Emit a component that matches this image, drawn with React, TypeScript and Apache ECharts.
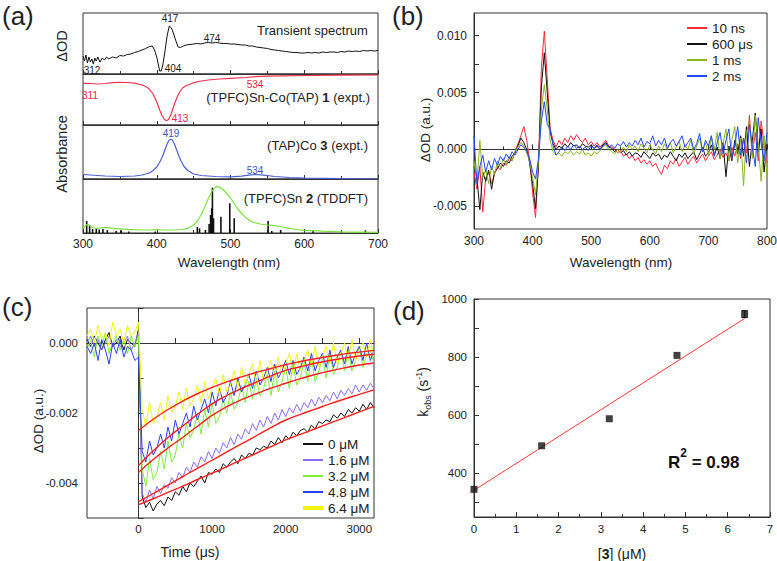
import React, { useEffect, useRef } from "react";
import * as echarts from "echarts";

const FONT = "'Liberation Sans', Arial, Helvetica, sans-serif";

// ---------- Panel (a): stacked spectra (arbitrary units, [wavelength nm, value]) ----------
const transientSpectrum: number[][] = [
  [300, 18], [302, 13], [304, 19], [306, 11], [308, 17], [310, 12], [312, 15], [314, 10], [316, 16], [318, 13],
  [320, 17], [323, 12], [326, 16], [329, 14], [332, 17], [335, 15], [340, 17], [345, 16], [350, 18.5], [355, 18],
  [360, 19.5], [365, 20], [370, 21.5], [375, 22.5], [380, 24], [385, 25.5], [390, 27.5], [394, 28], [397, 24],
  [400, 17], [402, 10], [404, 3], [406, 3], [408, 8], [411, 22], [414, 38], [417, 48], [420, 46], [423, 40],
  [426, 33], [429, 27], [432, 26.5], [436, 28], [440, 29], [445, 29.5], [450, 30], [455, 30.5], [460, 30],
  [465, 31], [470, 31.5], [475, 31], [480, 31.5], [485, 31], [490, 30.5], [495, 30.5], [500, 30], [505, 30],
  [510, 29.5], [515, 29], [520, 29], [525, 28], [530, 28], [535, 27], [540, 26.5], [545, 26], [550, 25.5],
  [555, 24.5], [560, 24], [565, 23.5], [570, 23], [575, 22.5], [580, 22], [585, 21.5], [590, 21.5], [595, 21],
  [600, 21], [605, 21.5], [610, 21], [615, 21.5], [620, 21], [625, 22], [630, 21.5], [635, 22], [640, 22],
  [645, 21.5], [650, 22.5], [655, 22], [660, 23], [665, 22.5], [670, 23], [675, 22.5], [680, 23.5], [685, 23],
  [690, 23.5], [695, 23], [700, 23.5],
];
const absComplex1: number[][] = [
  [300, 41.7], [310, 41.5], [320, 41], [330, 41.5], [340, 42.3], [350, 42.7], [360, 42.5], [370, 41.8],
  [380, 40], [385, 38.5], [390, 36], [395, 31], [400, 23], [404, 15], [407, 9.5], [410, 6], [413, 4.3],
  [416, 5.5], [419, 10], [422, 16.5], [425, 23], [428, 28.5], [431, 33], [435, 37], [440, 39.5], [450, 42.3],
  [460, 44], [470, 45], [485, 46], [500, 46.7], [520, 47.5], [534, 48.3], [550, 48.8], [570, 49.2],
  [600, 49.5], [650, 49.8], [700, 50],
];
const absCo3: number[][] = [
  [300, 4.5], [310, 4], [330, 3], [350, 2.5], [370, 3], [380, 4], [390, 6], [395, 8.5], [400, 12], [405, 18],
  [408, 23], [411, 29], [414, 35], [417, 39], [419, 39.7], [421, 39], [424, 35], [427, 29], [430, 23],
  [433, 18], [437, 12.5], [442, 8.5], [450, 5], [460, 3.5], [480, 2.5], [500, 2.2], [515, 2.8], [525, 3.8],
  [534, 4.5], [545, 3.8], [560, 2.5], [580, 1.5], [600, 0.8], [650, 0.3], [700, 0],
];
const tddftSn2: number[][] = [
  [300, 4.5], [303, 7], [306, 8.7], [309, 7.5], [313, 5.5], [318, 4.5], [325, 5.2], [330, 5.7], [336, 5.2],
  [345, 4.3], [360, 3.7], [380, 3], [395, 3.2], [400, 3.5], [410, 3], [425, 3], [435, 3.5], [442, 4.7],
  [450, 8], [455, 12], [460, 18], [465, 26], [470, 34.5], [475, 42], [480, 46.3], [485, 46], [490, 43.5],
  [495, 39.5], [500, 35], [505, 29.5], [510, 24], [515, 19.5], [520, 15.8], [525, 13], [530, 11], [540, 9],
  [550, 8], [560, 7.3], [570, 6], [580, 4.7], [590, 3.5], [600, 2.7], [625, 1.8], [650, 1.2], [700, 0.6],
];
const tddftSticks: number[][] = [
  [305, 12], [309, 8], [313, 4], [318, 5], [322, 3.5], [327, 4], [333, 3], [345, 2], [352, 2.5], [362, 1.5],
  [398, 1.5], [455, 6], [458, 4.5], [466, 3], [471, 9], [473, 18], [474.5, 24.7], [475.5, 45.3], [477, 14.7],
  [487, 16.3], [499, 29.7], [505, 14.7], [551, 12], [556, 2], [568, 3], [612, 2.7], [683, 2.7],
];

// ---------- Panel (b): transient spectra, 300–800 nm every 5 nm, ΔOD in units of 1e-4 ----------
const wlB = Array.from({ length: 101 }, (_, i) => 300 + 5 * i);
const b10ns = [
  -20, -35, -15, -55, -25, -20, -30, -22, -15, -18,
  -12, -14, -8, -10, -2, 5, 12, 20, 8, -10,
  -38, -60, -12, 72, 104, 62, 18, 8, 2, 8,
  4, 10, 6, 12, 8, 13, 9, 6, 10, 4,
  7, 3, 6, 2, 5, 8, 3, 2, 0, -3,
  -1, -6, -4, -8, -5, -10, -7, -12, -9, -13,
  -10, -15, -12, -18, -22, -14, -17, -10, -13, -8,
  -15, -11, -7, -13, -9, -6, -12, -8, -4, -10,
  -6, -2, -9, -5, 0, -7, -3, -10, 2, -6,
  5, -8, 10, -3, 30, -5, 15, -10, 25, 5,
  -12,
];
const b600us = [
  -15, -25, -53, -20, -28, -18, -35, -20, -17, -12,
  -15, -10, -12, -6, -3, 3, 10, 6, 0, -12,
  -30, -52, -15, 55, 85, 50, 15, 5, 0, 3,
  1, 5, 2, 6, 3, 4, 1, 5, 3, 2,
  4, 1, 3, 0, 4, 6, 2, 1, -2, 0,
  -3, -1, -5, -2, -6, -3, -4, -7, -2, -5,
  -8, -3, -6, -4, -9, -5, -7, -2, -6, -10,
  -4, -7, -3, -8, -5, -2, -9, -4, 2, -6,
  -3, 4, -5, 2, -8, 6, -24, 3, -10, 8,
  -4, 12, -6, 20, -15, 8, 32, -2, 18, -20,
  5,
];
const b1ms = [
  -10, -30, 8, -25, -18, -30, -15, -22, -10, -16,
  -8, -13, -6, -10, -2, 2, 6, 3, -3, -10,
  -25, -40, -10, 35, 57, 35, 8, -2, -5, -3,
  -6, -2, -4, -1, -5, -2, -4, 0, -5, -3,
  -6, -2, -4, -1, 2, 4, 0, -2, -4, 0,
  -3, 2, -2, 4, 0, 3, -2, 5, 1, -3,
  4, 0, -4, 3, -2, 5, 0, 6, -3, 2,
  7, -2, 4, 0, 8, -4, 3, 10, -2, 6,
  -5, 12, 0, 15, -8, 5, 18, -10, 8, 20,
  -12, 10, -32, 15, 25, -8, 30, 5, -28, 12,
  -25,
];
const b2ms = [
  12, -30, -15, -5, -20, -10, -18, -8, -14, -6,
  -10, -4, -8, -2, -5, 0, 4, 2, -2, -8,
  -20, -26, -8, 25, 42, 22, 18, 3, -5, -2,
  2, -1, 3, 0, 4, 1, 3, 0, 2, -1,
  3, 1, 4, 0, 3, 5, 2, 4, 1, 5,
  3, 7, 2, 6, 3, 8, 4, 10, 2, 7,
  5, 12, 3, 8, 4, 10, 1, 6, 9, 3,
  7, 12, 2, 6, 10, 0, 5, 14, -2, 8,
  3, 12, -6, 6, 15, -4, 8, 18, -8, 4,
  20, -5, 10, -12, 22, 2, -15, 28, 5, -10,
  15,
];

// ---------- Panel (c): kinetic traces, -700–3200 µs every 50 µs, ΔOD in units of 1e-4 ----------
const tC = Array.from({ length: 79 }, (_, i) => -700 + 50 * i);
const c0uM = [
  1, -1, 2, 0, -2, 1, 3, -1, 0, 2, -2, 1, 0, -1,
  4,
  -44, -47, -45.5, -48, -46, -45, -46.5, -44, -45, -42.5,
  -43.5, -41, -42.5, -40, -41, -39.5, -38, -40, -37, -37.5,
  -36, -37, -34.5, -35.5, -34, -33, -34.5, -32, -33, -31.5,
  -32, -30, -30.5, -29.5, -30, -28, -29, -27, -28.5, -26.5,
  -27.5, -25.5, -26.5, -25, -24.5, -25.5, -23.5, -24.5, -22.5, -23,
  -22, -22.5, -20.5, -21.5, -20, -21, -19, -20, -18.5, -19.5,
  -17.5, -19, -17, -18.5,
];
const c16uM = [
  0, 2, -1, 1, -2, 0, 2, -1, 1, -1, 0, 2, -2, 0,
  3,
  -43, -45.5, -42, -44.5, -41, -43, -40.5, -41.5, -38.5, -40,
  -37, -38.5, -35.5, -37, -34, -35.5, -32.5, -34, -31, -33,
  -30, -31.5, -28.5, -30, -27, -29, -26, -27.5, -24.5, -26,
  -23, -25, -22, -24, -21, -23, -20, -22, -19, -21,
  -18.5, -20, -17.5, -19.5, -17, -18.5, -16, -18, -15.5, -17,
  -15, -16.5, -14, -16, -13.5, -15, -13, -14.5, -12, -14,
  -12, -13.5, -11.5, -13,
];
const c32uM = [
  -2, 1, -4, 2, -1, 3, -3, 0, 2, -2, 1, -3, 2, -1,
  2,
  -36, -41, -33, -39, -37, -31, -36, -28, -34, -32,
  -26, -30, -23, -27, -25, -20, -26, -19, -24, -17,
  -23, -21, -16, -20, -14, -19, -17, -12, -17, -11,
  -16, -10, -15, -13, -9, -15, -8, -14, -11, -7,
  -13, -6, -12, -10, -5, -11, -4, -11, -8, -4,
  -10, -3, -9, -7, -2, -8, -2, -8, -5, -1,
  -7, -3, -2, -6,
];
const c48uM = [
  -1, -3, 0, -5, 1, -2, -6, 0, -3, 1, -4, -1, -2, -5,
  -4,
  -31, -34, -28, -32, -30, -26, -30, -24, -28, -22,
  -26, -23, -20, -24, -18, -22, -19, -16, -20, -14,
  -18, -13, -17, -15, -11, -15, -10, -14, -12, -9,
  -13, -8, -12, -10, -7, -11, -6, -10, -8, -5,
  -9, -5, -9, -7, -4, -8, -3, -8, -5, -3,
  -7, -2, -7, -4, -2, -6, -1, -6, -3, -1,
  -5, 0, -5, -2,
];
const c64uM = [
  2, 4, 0, 5, 1, 3, -1, 6, 2, 4, 0, 5, 2, 3,
  6,
  -19, -24, -17, -23, -21, -17, -22, -15, -20, -18,
  -14, -19, -13, -18, -16, -12, -17, -11, -16, -13,
  -10, -15, -9, -14, -12, -8, -13, -7, -12, -9,
  -6, -12, -5, -11, -8, -5, -10, -4, -9, -6,
  -3, -9, -3, -8, -5, -2, -7, -1, -7, -4,
  -1, -6, 0, -6, -3, 0, -5, 1, -5, -2,
  0, -4, 1, -4,
];
const tFit = Array.from({ length: 17 }, (_, i) => 200 * i);
const fit0uM = [-46.2, -44.5, -42.7, -40.9, -39.0, -37.2, -35.3, -33.4, -31.5, -29.6, -27.7, -26.1, -24.5, -22.9, -21.3, -19.7, -18.1];
const fit16uM = [-45.3, -43.0, -40.6, -38.2, -35.8, -33.5, -31.1, -28.8, -26.5, -24.2, -22.0, -20.4, -18.9, -17.4, -16.0, -14.7, -13.4];
const fit32uM = [-37.0, -33.3, -30.0, -27.0, -23.8, -20.7, -18.2, -16.2, -14.5, -12.9, -11.5, -10.2, -9.0, -8.0, -7.1, -6.3, -5.7];
const fit48uM = [-35.0, -30.8, -27.0, -23.7, -20.4, -17.4, -15.0, -13.0, -11.2, -9.4, -7.8, -6.8, -5.8, -5.0, -4.3, -3.7, -3.2];
const fit64uM = [-25.0, -21.8, -19.0, -16.6, -14.5, -12.7, -11.1, -9.7, -8.4, -7.3, -6.2, -5.3, -4.5, -3.8, -3.1, -2.6, -2.1];

// ---------- Panel (d): kobs vs [3] ----------
const concD = [0, 1.6, 3.2, 4.8, 6.4];
const kobsD = [345, 495, 588, 806, 948];
const kobsErr = [0, 0, 0, 0, 12];
const fitLineX = [0, 6.4];
const fitLineY = [342, 933];

// tick label sets
const bYLabels = [-0.005, 0, 0.005, 0.01];
const bYTicks = [-0.005, -0.0025, 0, 0.0025, 0.005, 0.0075, 0.01];
const cXLabels = [0, 1000, 2000, 3000];
const cXTicks = [-500, 0, 500, 1000, 1500, 2000, 2500, 3000];
const cYLabels = [-0.004, -0.002, 0];
const cYTicks = [-0.005, -0.004, -0.003, -0.002, -0.001, 0, 0.001];
const dYLabels = [400, 600, 800, 1000];
const dYTicks = [300, 400, 500, 600, 700, 800, 900, 1000];

const AX = "#333";
const LINE_ICON = "path://M0,0h20v2h-20z";
const THICK_ICON = "path://M0,0h20v4h-20z";

function lbl(size: number) {
  return { fontSize: size, color: "#222", fontFamily: FONT };
}

function txt(x: number, y: number, text: string, size: number, opts: any = {}) {
  return {
    type: "text",
    x,
    y,
    rotation: opts.rotation || 0,
    style: {
      text,
      fontSize: size,
      fontFamily: FONT,
      fontWeight: opts.bold ? "bold" : "normal",
      fill: opts.color || "#222",
      align: opts.align || "center",
      verticalAlign: "middle",
      rich: opts.rich,
    },
  };
}

function buildOption(): any {
  const gridBase = { show: true, borderColor: AX, borderWidth: 1, outerBoundsMode: "none", containLabel: false };
  const grid = [
    { ...gridBase, left: 83, top: 13, width: 295, height: 61 },
    { ...gridBase, left: 83, top: 74, width: 295, height: 51 },
    { ...gridBase, left: 83, top: 125, width: 295, height: 54 },
    { ...gridBase, left: 83, top: 179, width: 295, height: 54 },
    { ...gridBase, left: 474, top: 13, width: 293, height: 216 },
    { ...gridBase, left: 87, top: 308, width: 287, height: 210 },
    { ...gridBase, left: 474, top: 299, width: 296, height: 218 },
  ];
  const tick = { show: true, inside: true, length: 5, lineStyle: { color: AX } };
  const minor = { show: true, splitNumber: 2, length: 3, lineStyle: { color: AX } };
  const line = { show: true, lineStyle: { color: AX } };
  const noSplit = { show: false };
  const plain = (v: number) => String(v);

  const aX = (i: number, show: boolean) => ({
    type: "value", gridIndex: i, min: 300, max: 700, interval: 100,
    axisLine: line, axisTick: { ...tick, length: 4 }, minorTick: minor,
    axisLabel: { show, margin: 5, formatter: plain, ...lbl(12) }, splitLine: noSplit,
  });
  const aY = (i: number, max: number) => ({
    type: "value", gridIndex: i, min: 0, max,
    axisLine: { show: false }, axisTick: { show: false }, axisLabel: { show: false }, splitLine: noSplit,
  });

  const xAxis = [
    aX(0, false), aX(1, false), aX(2, false), aX(3, true),
    {
      type: "value", gridIndex: 4, min: 300, max: 800, interval: 100,
      axisLine: line, axisTick: tick, minorTick: minor,
      axisLabel: { margin: 6, formatter: plain, ...lbl(12) }, splitLine: noSplit,
    },
    {
      type: "value", gridIndex: 5, min: -700, max: 3200,
      axisLine: line, axisTick: { ...tick, customValues: cXTicks },
      axisLabel: { margin: 5, customValues: cXLabels, formatter: plain, ...lbl(11.5) }, splitLine: noSplit,
    },
    {
      type: "value", gridIndex: 6, min: 0, max: 7, interval: 1,
      axisLine: line, axisTick: tick, minorTick: minor,
      axisLabel: { margin: 6, formatter: plain, ...lbl(11.5) }, splitLine: noSplit,
    },
  ];
  const yAxis = [
    aY(0, 61), aY(1, 51), aY(2, 54), aY(3, 54),
    {
      type: "value", gridIndex: 4, min: -0.007, max: 0.012,
      axisLine: line, axisTick: { ...tick, customValues: bYTicks },
      axisLabel: { margin: 7, customValues: bYLabels, formatter: (v: number) => (Math.abs(v) < 1e-9 ? "0.000" : v.toFixed(3)), ...lbl(12) },
      splitLine: noSplit,
    },
    {
      type: "value", gridIndex: 5, min: -0.005, max: 0.001,
      axisLine: line, axisTick: { ...tick, customValues: cYTicks },
      axisLabel: { margin: 9, customValues: cYLabels, formatter: (v: number) => (Math.abs(v) < 1e-9 ? "0.000" : v.toFixed(3)), ...lbl(11.5) },
      splitLine: noSplit,
    },
    {
      type: "value", gridIndex: 6, min: 250, max: 1000,
      axisLine: line, axisTick: { ...tick, customValues: dYTicks },
      axisLabel: { margin: 7, customValues: dYLabels, formatter: plain, ...lbl(11.5) },
      splitLine: noSplit,
    },
  ];

  const lineS = (name: string, gi: number, data: number[][], color: string, width = 1, extra: any = {}) => ({
    type: "line", name, xAxisIndex: gi, yAxisIndex: gi, data, symbol: "none",
    lineStyle: { color, width }, itemStyle: { color }, ...extra,
  });

  const toB = (arr: number[]) => wlB.map((w, i) => [w, arr[i] / 10000]);
  const toC = (arr: number[]) => tC.map((t, i) => [t, arr[i] / 10000]);
  const toFit = (arr: number[]) => tFit.map((t, i) => [t, arr[i] / 10000]);

  const cColors = { c0: "#111111", c16: "#8a6cf0", c32: "#7ef03c", c48: "#2e3ff0", c64: "#f4f414" };
  const fitColor = "#ff1f1f";

  const series: any[] = [
    lineS("Transient spectrum", 0, transientSpectrum, "#111", 1),
    lineS("(TPFC)Sn-Co(TAP) 1", 1, absComplex1, "#f5334f", 1.2),
    lineS("(TAP)Co 3", 2, absCo3, "#4b5fd8", 1.2),
    {
      type: "bar", name: "TDDFT sticks", xAxisIndex: 3, yAxisIndex: 3, data: tddftSticks,
      barWidth: 1.6, itemStyle: { color: "#111" }, z: 2,
    },
    lineS("(TPFC)Sn 2", 3, tddftSn2, "#7ee23c", 1.2, { z: 3 }),

    lineS("10 ns", 4, toB(b10ns), "#ff2a3c", 1),
    lineS("600 μs", 4, toB(b600us), "#111111", 1),
    lineS("1 ms", 4, toB(b1ms), "#8bb51e", 1),
    lineS("2 ms", 4, toB(b2ms), "#2448ff", 1),

    lineS("0 μM", 5, toC(c0uM), cColors.c0, 1),
    lineS("1.6 μM", 5, toC(c16uM), cColors.c16, 1),
    lineS("3.2 μM", 5, toC(c32uM), cColors.c32, 1),
    lineS("4.8 μM", 5, toC(c48uM), cColors.c48, 1),
    lineS("6.4 μM", 5, toC(c64uM), cColors.c64, 1),
    lineS("fit 0", 5, toFit(fit0uM), fitColor, 1.4, { smooth: true, z: 4 }),
    lineS("fit 1.6", 5, toFit(fit16uM), fitColor, 1.4, { smooth: true, z: 4 }),
    lineS("fit 3.2", 5, toFit(fit32uM), fitColor, 1.4, { smooth: true, z: 4 }),
    lineS("fit 4.8", 5, toFit(fit48uM), fitColor, 1.4, { smooth: true, z: 4 }),
    lineS("fit 6.4", 5, toFit(fit64uM), fitColor, 1.4, { smooth: true, z: 4 }),

    lineS("linear fit", 6, fitLineX.map((x, i) => [x, fitLineY[i]]), "#ff3838", 1),
    {
      type: "scatter", name: "kobs", xAxisIndex: 6, yAxisIndex: 6,
      data: concD.map((x, i) => [x, kobsD[i]]), symbol: "rect", symbolSize: 7,
      itemStyle: { color: "#111" }, z: 5,
    },
    {
      type: "custom", name: "kobs error", xAxisIndex: 6, yAxisIndex: 6, z: 5,
      data: concD.map((x, i) => [x, kobsD[i], kobsErr[i]]).filter((d) => d[2] > 0),
      renderItem: (_p: any, api: any) => {
        const x = api.value(0), y = api.value(1), e = api.value(2);
        const top = api.coord([x, y + e]);
        const bot = api.coord([x, y - e]);
        const st = { stroke: "#111", lineWidth: 1 };
        return {
          type: "group",
          children: [
            { type: "line", shape: { x1: top[0], y1: top[1], x2: bot[0], y2: bot[1] }, style: st },
            { type: "line", shape: { x1: top[0] - 3, y1: top[1], x2: top[0] + 3, y2: top[1] }, style: st },
            { type: "line", shape: { x1: bot[0] - 3, y1: bot[1], x2: bot[0] + 3, y2: bot[1] }, style: st },
          ],
        };
      },
    },
  ];

  const legendText = { fontSize: 13.5, color: "#222", fontFamily: FONT, lineHeight: 13 };
  const legend = [
    {
      show: true, orient: "vertical", left: 682, top: 16, itemWidth: 20, itemHeight: 12, itemGap: 2,
      icon: LINE_ICON, textStyle: legendText, selectedMode: false,
      data: ["10 ns", "600 μs", "1 ms", "2 ms"],
    },
    {
      show: true, orient: "vertical", left: 298, top: 432, itemWidth: 20, itemHeight: 12, itemGap: 2,
      icon: LINE_ICON, textStyle: legendText, selectedMode: false,
      data: ["0 μM", "1.6 μM", "3.2 μM", "4.8 μM", { name: "6.4 μM", icon: THICK_ICON }],
    },
  ];

  const red = "#ee2244";
  const blue = "#3355cc";
  const graphic = [
    txt(2, 16, "(a)", 26, { align: "left" }),
    txt(392, 16, "(b)", 26, { align: "left" }),
    txt(2, 307, "(c)", 26, { align: "left" }),
    txt(393, 311, "(d)", 26, { align: "left" }),

    // panel (a)
    txt(62, 46, "ΔOD", 14.5, { rotation: Math.PI / 2 }),
    txt(62, 154, "Absorbance", 14.5, { rotation: Math.PI / 2 }),
    txt(229, 262, "Wavelength (nm)", 13.5),
    txt(257, 30, "Transient spectrum", 13, { align: "left" }),
    txt(170, 18, "417", 10),
    txt(212, 38, "474", 10),
    txt(92, 70, "312", 10),
    txt(173, 68, "404", 10),
    txt(90, 95, "311", 10, { color: red }),
    txt(180, 118, "413", 10, { color: red }),
    txt(255, 84, "534", 10, { color: red }),
    {
      type: "text", x: 370, y: 97,
      style: {
        text: "{n|(TPFC)Sn-Co(TAP) }{b|1}{n| (expt.)}", align: "right", verticalAlign: "middle",
        rich: { n: { fontSize: 13, fontFamily: FONT, fill: "#222" }, b: { fontSize: 13, fontFamily: FONT, fontWeight: "bold", fill: "#222" } },
      },
    },
    txt(171, 133, "419", 10, { color: blue }),
    txt(255, 170, "534", 10, { color: blue }),
    {
      type: "text", x: 368, y: 145,
      style: {
        text: "{n|(TAP)Co }{b|3}{n| (expt.)}", align: "right", verticalAlign: "middle",
        rich: { n: { fontSize: 13, fontFamily: FONT, fill: "#222" }, b: { fontSize: 13, fontFamily: FONT, fontWeight: "bold", fill: "#222" } },
      },
    },
    {
      type: "text", x: 368, y: 198,
      style: {
        text: "{n|(TPFC)Sn }{b|2}{n| (TDDFT)}", align: "right", verticalAlign: "middle",
        rich: { n: { fontSize: 13, fontFamily: FONT, fill: "#222" }, b: { fontSize: 13, fontFamily: FONT, fontWeight: "bold", fill: "#222" } },
      },
    },

    // panel (b)
    txt(425, 130, "ΔOD (a.u.)", 13.5, { rotation: Math.PI / 2 }),
    txt(621, 262, "Wavelength (nm)", 13.5),

    // panel (c)
    txt(38, 421, "ΔOD (a.u.)", 13.5, { rotation: Math.PI / 2 }),
    txt(190, 552, "Time (μs)", 14),

    // panel (d)
    {
      type: "text", x: 423, y: 392, rotation: Math.PI / 2,
      style: {
        text: "{a|k}{s|obs}{a| (s}{p|-1}{a|)}", align: "center", verticalAlign: "middle",
        rich: {
          a: { fontSize: 14, fontFamily: FONT, fill: "#222", lineHeight: 18, verticalAlign: "middle" },
          s: { fontSize: 9, fontFamily: FONT, fill: "#222", lineHeight: 18, verticalAlign: "bottom" },
          p: { fontSize: 9, fontFamily: FONT, fill: "#222", lineHeight: 18, verticalAlign: "top" },
        },
      },
    },
    {
      type: "text", x: 622, y: 554,
      style: {
        text: "{n|[}{b|3}{n|] (μM)}", align: "center", verticalAlign: "middle",
        rich: {
          n: { fontSize: 14, fontFamily: FONT, fill: "#222" },
          b: { fontSize: 14, fontFamily: FONT, fontWeight: "bold", fill: "#222" },
        },
      },
    },
    {
      type: "text", x: 668, y: 459,
      style: {
        text: "{a|R}{p|2}{a| = 0.98}", align: "left", verticalAlign: "middle",
        rich: {
          a: { fontSize: 17, fontFamily: FONT, fontWeight: "bold", fill: "#111", lineHeight: 24, verticalAlign: "bottom" },
          p: { fontSize: 12, fontFamily: FONT, fontWeight: "bold", fill: "#111", lineHeight: 24, verticalAlign: "top" },
        },
      },
    },
  ];

  return {
    animation: false,
    backgroundColor: "#ffffff",
    textStyle: { fontFamily: FONT },
    grid, xAxis, yAxis, series, legend, graphic,
  };
}

export default function App() {
  const ref = useRef<HTMLDivElement | null>(null);
  useEffect(() => {
    if (!ref.current) return;
    const chart = echarts.init(ref.current, null, { renderer: "svg" });
    chart.setOption(buildOption());
    return () => chart.dispose();
  }, []);
  return (
    <div
      ref={ref}
      style={{ position: "absolute", left: 0, top: 0, width: 777, height: 561, background: "#fff" }}
    />
  );
}
